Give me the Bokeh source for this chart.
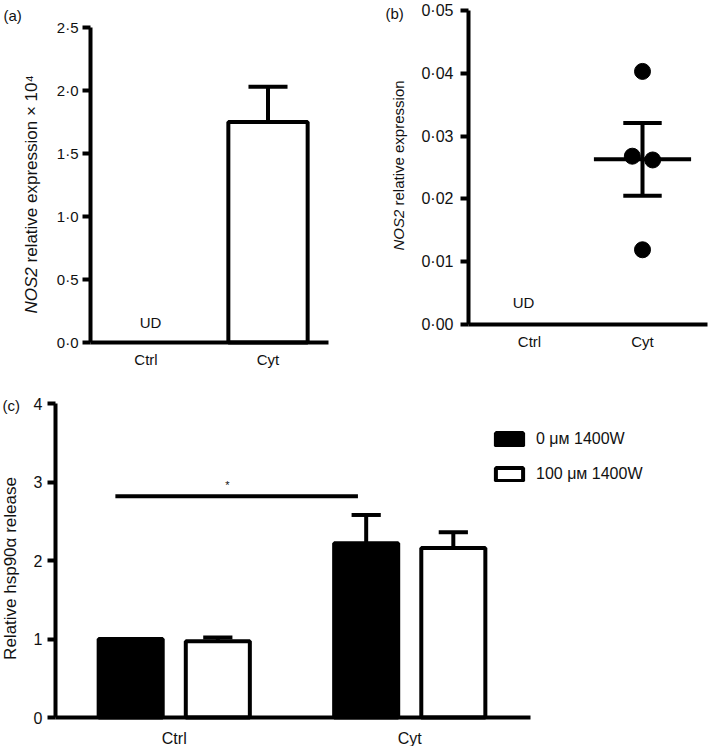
from bokeh.plotting import figure
from bokeh.layouts import column, row
from bokeh.models import FixedTicker, Label, Legend, LegendItem, Range1d
from bokeh.core.properties import value
from bokeh.embed import file_html
from bokeh.resources import INLINE

FONT = "Liberation Sans"
INK = "#000000"
TXT = "#111111"

# ---------------- data ----------------
categories = ["Ctrl", "Cyt"]
cat_pos = [0, 1]

# (a) NOS2 relative expression x 10^4 (Ctrl undetected)
a_ticks = [0, 0.5, 1.0, 1.5, 2.0, 2.5]
a_tick_labels = ["0·0", "0·5", "1·0", "1·5", "2·0", "2·5"]
a_cyt_mean = [1.75]
a_cyt_sem = [0.28]

# (b) NOS2 relative expression, individual points (Cyt)
b_ticks = [0, 0.01, 0.02, 0.03, 0.04, 0.05]
b_tick_labels = ["0·00", "0·01", "0·02", "0·03", "0·04", "0·05"]
b_cyt_points = [0.0403, 0.0268, 0.0262, 0.0119]
b_cyt_jitter = [0.0, -0.09, 0.09, 0.0]
b_cyt_mean = [0.0263]
b_cyt_sem = [0.0058]

# (c) relative hsp90alpha release
c_ticks = [0, 1, 2, 3, 4]
c_tick_labels = ["0", "1", "2", "3", "4"]
c_series = ["0 μᴍ 1400W", "100 μᴍ 1400W"]
c_0um = [1.00, 2.22]
c_0um_err = [0.0, 0.36]
c_100um = [0.97, 2.16]
c_100um_err = [0.05, 0.20]
c_sig_x = [-0.25, 0.78]
c_sig_y = 2.82
c_sig_text = "*"

UD = "UD"


class Geo:
    """pixel <-> data helper; the frame fills the whole canvas."""
    def __init__(self, left, top, w, h, x0px, xs, y0px, ys):
        self.left, self.top, self.w, self.h = left, top, w, h
        self.x0px, self.xs, self.y0px, self.ys = x0px, xs, y0px, ys

    def X(self, px):
        return (px - self.x0px) / self.xs

    def Y(self, py):
        return (self.y0px - py) / self.ys

    def figure(self):
        p = figure(width=self.w, height=self.h,
                   x_range=Range1d(self.X(self.left), self.X(self.left + self.w)),
                   y_range=Range1d(self.Y(self.top + self.h), self.Y(self.top)),
                   output_backend="svg", toolbar_location=None,
                   min_border_left=0, min_border_right=0, min_border_top=0, min_border_bottom=0)
        p.xgrid.visible = False
        p.ygrid.visible = False
        p.outline_line_color = None
        p.background_fill_color = "white"
        p.border_fill_color = "white"
        return p


def style(p, g, xaxis_px, yaxis_px, ybounds, yticks, ylabels, ytick_font, xtick_font, ystandoff, xstandoff=8):
    for ax in (p.xaxis[0], p.yaxis[0]):
        ax.axis_line_width = 4
        ax.axis_line_color = INK
        ax.major_tick_line_width = 4
        ax.major_tick_line_color = INK
        ax.minor_tick_line_color = None
        ax.major_label_text_font = FONT
        ax.major_label_text_color = TXT
    ya = p.yaxis[0]
    ya.fixed_location = g.X(yaxis_px)
    ya.bounds = ybounds
    ya.ticker = FixedTicker(ticks=yticks)
    ya.major_label_overrides = {t: l for t, l in zip(yticks, ylabels)}
    ya.major_tick_out = 8
    ya.major_tick_in = 0
    ya.major_label_standoff = ystandoff
    ya.major_label_text_font_size = ytick_font
    xa = p.xaxis[0]
    xa.fixed_location = 0
    xa.bounds = (g.X(xaxis_px[0]), g.X(xaxis_px[1]))
    xa.ticker = FixedTicker(ticks=cat_pos)
    xa.major_label_overrides = {c: n for c, n in zip(cat_pos, categories)}
    xa.major_tick_out = 0
    xa.major_tick_in = 0
    xa.major_tick_line_color = None
    xa.major_label_standoff = xstandoff
    xa.major_label_text_font_size = xtick_font


def lab(p, x, y, text, size, angle=0.0, align="left", style_="normal", baseline="middle"):
    p.add_layout(Label(x=x, y=y, text=text, angle=angle, text_align=align,
                       text_baseline=baseline, text_font=FONT,
                       text_font_size=size, text_font_style=style_, text_color=TXT))


# ---------------- panel (a) ----------------
ga = Geo(0, 0, 350, 372, 145.5, 122.0, 342.0, 126.0)
pa = ga.figure()
style(pa, ga, (90, 328), 90, (0, 2.5), a_ticks, a_tick_labels, "15px", "15px", 4)
pa.vbar(x=[cat_pos[1]], top=a_cyt_mean, width=0.65, fill_color="white",
        line_color=INK, line_width=4)
a_hi = [m + s for m, s in zip(a_cyt_mean, a_cyt_sem)]
pa.segment(x0=[cat_pos[1]], y0=a_cyt_mean, x1=[cat_pos[1]], y1=a_hi, line_color=INK, line_width=4)
pa.segment(x0=[cat_pos[1] - 0.16], y0=a_hi, x1=[cat_pos[1] + 0.16], y1=a_hi,
           line_color=INK, line_width=4)
pa.text(x=[ga.X(150)], y=[ga.Y(322)], text=[UD], text_font=value(FONT),
        text_font_size="15px", text_align="center", text_baseline="middle", text_color=TXT)
lab(pa, ga.X(3), ga.Y(15), "(a)", "15px")
lab(pa, ga.X(31), ga.Y(313), "NOS2", "17px", angle=1.5708, style_="italic")
lab(pa, ga.X(31), ga.Y(313 - 51), "relative expression × 10⁴", "17px", angle=1.5708)

# ---------------- panel (b) ----------------
gb = Geo(350, 0, 359, 372, 529.0, 113.0, 324.0, 6280.0)
pb = gb.figure()
style(pb, gb, (468, 707), 468, (0, 0.05), b_ticks, b_tick_labels, "16px", "15px", 7)
b_hi = [m + s for m, s in zip(b_cyt_mean, b_cyt_sem)]
b_lo = [m - s for m, s in zip(b_cyt_mean, b_cyt_sem)]
pb.segment(x0=[cat_pos[1]], y0=b_lo, x1=[cat_pos[1]], y1=b_hi, line_color=INK, line_width=4)
pb.segment(x0=[cat_pos[1] - 0.17] * 2, y0=b_lo + b_hi, x1=[cat_pos[1] + 0.17] * 2, y1=b_lo + b_hi,
           line_color=INK, line_width=4)
pb.segment(x0=[cat_pos[1] - 0.43], y0=b_cyt_mean, x1=[cat_pos[1] + 0.43], y1=b_cyt_mean,
           line_color=INK, line_width=4)
pb.scatter(x=[cat_pos[1] + j for j in b_cyt_jitter], y=b_cyt_points, size=16,
           fill_color=INK, line_color=INK)
pb.text(x=[gb.X(523)], y=[gb.Y(302)], text=[UD], text_font=value(FONT),
        text_font_size="15px", text_align="center", text_baseline="middle", text_color=TXT)
lab(pb, gb.X(385), gb.Y(13), "(b)", "15px")
lab(pb, gb.X(398), gb.Y(250), "NOS2", "15px", angle=1.5708, style_="italic")
lab(pb, gb.X(398), gb.Y(250 - 45), "relative expression", "15px", angle=1.5708)

# ---------------- panel (c) ----------------
gc = Geo(0, 372, 709, 374, 173.75, 235.5, 717.0, 78.5)
pc = gc.figure()
style(pc, gc, (55, 530), 55, (0, 4), c_ticks, c_tick_labels, "16px", "16px", 5, xstandoff=12)
off = 0.185
bw = 0.272
x0 = [c - off for c in cat_pos]
x1 = [c + off for c in cat_pos]
r0 = pc.vbar(x=x0, top=c_0um, width=bw, fill_color=INK, line_color=INK, line_width=4)
r1 = pc.vbar(x=x1, top=c_100um, width=bw, fill_color="white", line_color=INK, line_width=4)
for xs, tops, errs in ((x0, c_0um, c_0um_err), (x1, c_100um, c_100um_err)):
    xe = [x for x, e in zip(xs, errs) if e > 0]
    lo = [t for t, e in zip(tops, errs) if e > 0]
    hi = [t + e for t, e in zip(tops, errs) if e > 0]
    pc.segment(x0=xe, y0=lo, x1=xe, y1=hi, line_color=INK, line_width=4)
    pc.segment(x0=[x - 0.062 for x in xe], y0=hi, x1=[x + 0.062 for x in xe], y1=hi,
               line_color=INK, line_width=4)
pc.segment(x0=[c_sig_x[0]], y0=[c_sig_y], x1=[c_sig_x[1]], y1=[c_sig_y],
           line_color=INK, line_width=4)
pc.text(x=[gc.X(227)], y=[gc.Y(484)], text=[c_sig_text],
        text_font=value(FONT), text_font_size="11px", text_align="center",
        text_baseline="middle", text_color=TXT)
lab(pc, gc.X(2), gc.Y(405), "(c)", "15px")
lab(pc, gc.X(10), gc.Y(568), "Relative hsp90α release", "17px", angle=1.5708, align="center")

legend = Legend(items=[LegendItem(label=c_series[0], renderers=[r0]),
                       LegendItem(label=c_series[1], renderers=[r1])],
                location=(492, 263), orientation="vertical",
                glyph_width=34, glyph_height=16, label_height=16, label_width=20,
                label_standoff=10, spacing=17, padding=0, margin=0,
                border_line_color=None, background_fill_alpha=0,
                label_text_font=FONT, label_text_font_size="16px", label_text_color=TXT)
pc.add_layout(legend)

layout = column(row(pa, pb), pc)
open("out.html", "w").write(file_html(layout, INLINE))
